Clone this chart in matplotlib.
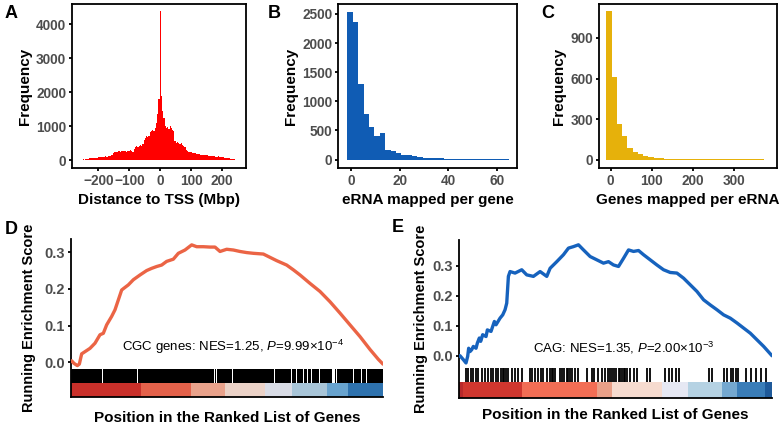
import numpy as np
import matplotlib
matplotlib.use("Agg")
import matplotlib.pyplot as plt

plt.rcParams['font.family'] = ['Liberation Sans', 'DejaVu Sans']
plt.rcParams['mathtext.fontset'] = 'custom'
plt.rcParams['mathtext.rm'] = 'Liberation Sans'
plt.rcParams['mathtext.it'] = 'Liberation Sans:italic'
plt.rcParams['mathtext.bf'] = 'Liberation Sans:bold'

# ---------------- data ----------------
# Panel A: distance of eRNA to TSS (Mbp), 4-Mbp bins
tss_edges = np.arange(-258, 247, 4)
tss_counts = [
    15, 20, 25, 20, 30, 35,
    45, 55, 60, 50, 65, 70, 60, 75,
    80, 90, 85, 95, 100, 90, 110, 105,
    120, 130, 115, 140, 200, 230,
    250, 240, 260, 270, 255, 265, 280, 260, 275, 250, 270,
    280, 300, 260, 250, 330,
    400, 420, 390, 430, 450, 420, 480,
    600, 650, 700, 680, 720,
    820, 850, 900, 870, 950,
    1100, 1350, 1800,
    4380,
    1900, 1450, 1250,
    1000, 950, 980, 920, 1010, 960, 900, 870,
    560, 520, 540, 500, 480, 520, 460,
    420, 380, 300, 260,
    240, 230, 250, 220, 200, 210, 190, 180,
    170, 175, 160, 165, 150, 155, 140, 150, 135, 130, 125, 120,
    115, 110, 105, 100, 110, 95, 90, 100, 80, 75,
    70, 60, 55, 50, 45, 40, 30, 25, 15,
]

# Panel B: eRNA mapped per gene
erna_edges = np.linspace(-1.5, 65.1, 31)
erna_counts = [2530, 2370, 1300, 790, 555, 400, 459, 172, 143, 115,
               86, 80, 57, 40, 30, 25, 22, 20, 15, 12,
               15, 10, 10, 9, 8, 8, 7, 6, 6, 5]

# Panel C: genes mapped per eRNA
gene_edges = np.linspace(-10.7, 373.3, 31)
gene_counts = [1100, 614, 265, 177, 86, 61, 44, 32, 22, 15,
               12, 10, 8, 8, 6, 7, 6, 5, 6, 5,
               5, 5, 5, 5, 5, 5, 5, 4, 4, 4]

N_GENES = 10000

# Panel D: running enrichment score, CGC genes
d_rank = [0, 21, 96, 203, 267, 342, 449, 609, 769, 929, 1036, 1143, 1303, 1410,
          1517, 1624, 1699, 1838, 1998, 2212, 2425, 2585, 2746, 2906, 3066, 3280,
          3440, 3654, 3868, 4028, 4242, 4455, 4615, 4776, 4990, 5203, 5417, 5630,
          5844, 6165, 6378, 6592, 6912, 7126, 7340, 7660, 7981, 8302, 8622, 8942,
          9263, 9583, 9851, 10000]
d_es = [0.004, 0.004, -0.003, -0.009, -0.005, 0.023, 0.029, 0.038, 0.052, 0.075,
        0.079, 0.102, 0.125, 0.143, 0.170, 0.197, 0.202, 0.211, 0.225, 0.238,
        0.250, 0.256, 0.261, 0.265, 0.275, 0.281, 0.297, 0.306, 0.320, 0.315,
        0.315, 0.314, 0.314, 0.302, 0.308, 0.306, 0.302, 0.299, 0.297, 0.295,
        0.286, 0.277, 0.265, 0.252, 0.238, 0.215, 0.193, 0.165, 0.134, 0.102,
        0.070, 0.035, 0.008, -0.005]
# ranks without a CGC hit (white gaps in the dense barcode) and their widths
d_gap_ranks = [128, 1003, 1923, 2138, 2404, 2564, 3974, 4593, 4670, 5170, 5545,
               6346, 6529, 7061, 7234, 7446, 7574, 7715, 7958, 8141, 8301, 8407,
               8516, 8910, 9048, 9317, 9478, 9551]
d_gap_widths = [30, 30, 30, 30, 30, 30, 30, 30, 30, 30, 30,
                30, 30, 30, 30, 30, 30, 30, 30, 30, 30, 110,
                30, 30, 30, 30, 30, 30]
d_bar_bounds = [0, 0.224, 0.385, 0.494, 0.622, 0.707, 0.819, 0.889, 1.0]
d_bar_colors = ['#C9302A', '#E3614A', '#E9A28B', '#EBD2C7', '#D9DCE6',
                '#A8C5D8', '#68A3CE', '#2E72AE']

# Panel E: running enrichment score, CAG genes
e_rank = [0, 32, 139, 224, 277, 309, 352, 405, 458, 544, 586, 650, 693, 757, 864,
          906, 1023, 1130, 1183, 1311, 1397, 1471, 1525, 1578, 1631, 1791, 2004,
          2164, 2377, 2591, 2804, 2911, 3124, 3337, 3497, 3657, 3817, 3977, 4190,
          4403, 4616, 4776, 4936, 5096, 5256, 5416, 5576, 5736, 5896, 6109, 6322,
          6535, 6748, 6962, 7175, 7388, 7601, 7815, 8028, 8241, 8454, 8667, 8881,
          9094, 9307, 9520, 9734, 10000]
e_es = [0.000, 0.000, -0.013, -0.024, -0.002, 0.025, 0.014, 0.020, 0.031, 0.025,
        0.042, 0.059, 0.048, 0.070, 0.064, 0.086, 0.081, 0.114, 0.103, 0.125,
        0.136, 0.153, 0.175, 0.264, 0.280, 0.275, 0.286, 0.269, 0.264, 0.280,
        0.264, 0.291, 0.313, 0.336, 0.358, 0.363, 0.369, 0.352, 0.330, 0.319,
        0.308, 0.313, 0.302, 0.297, 0.324, 0.352, 0.347, 0.350, 0.336, 0.319,
        0.302, 0.286, 0.277, 0.275, 0.258, 0.236, 0.214, 0.186, 0.169, 0.153,
        0.136, 0.125, 0.109, 0.092, 0.075, 0.053, 0.031, 0.000]
e_hits = [214, 297, 384, 457, 534, 617, 726, 831, 937, 1023, 1097, 1174, 1238,
          1343, 1397, 1449, 1503, 1557, 1685, 1791, 1896, 2005, 2271, 2344, 2430,
          2536, 2622, 2696, 2805, 2910, 2965, 3016, 3070, 3230, 3303, 3367, 3444,
          3495, 3550, 3623, 3710, 3796, 4084, 4244, 4327, 4436, 4563, 4669, 4755,
          4829, 4903, 4947, 5021, 5107, 5158, 5213, 5267, 5318, 5373, 5478, 5587,
          5692, 6012, 6118, 6597, 6706, 6812, 6917, 7026, 7985, 8068, 8465, 8571,
          8676, 8753, 8836, 8922, 9156, 9316, 9476, 9635, 9795]
e_bar_bounds = [0, 0.014, 0.2, 0.44, 0.488, 0.648, 0.733, 0.84, 0.888, 0.979, 1.0]
e_bar_colors = ['#B8292B', '#D0372F', '#F26E55', '#E9A088', '#F6DBCF', '#E6E8F3',
                '#B5D2E3', '#74A8D0', '#3A7DB8', '#1F5A9A']

# ---------------- figure ----------------
W, H = 784, 426
fig = plt.figure(figsize=(W / 100, H / 100), dpi=100)

TICK_GREY = '#4D4D4D'


def rect(l, t, r, b):
    return [l / W, 1 - b / H, (r - l) / W, (b - t) / H]


def style_ticks(ax, size):
    ax.tick_params(direction='out', length=2.2, width=1.3, color='black',
                   labelsize=size, labelcolor=TICK_GREY, pad=2)
    for lab in ax.get_xticklabels() + ax.get_yticklabels():
        lab.set_fontweight('bold')


def hist_panel(r, edges, counts, color, xlim, ylim, xticks, yticks, xlabel, ylabel_pad):
    ax = fig.add_axes(r)
    ax.stairs(counts, edges, fill=True, color=color, linewidth=0)
    ax.set_xlim(xlim)
    ax.set_ylim(ylim)
    ax.set_xticks(xticks)
    ax.set_yticks(yticks)
    for s in ax.spines.values():
        s.set_linewidth(1.3)
        s.set_color('black')
    style_ticks(ax, 9.8)
    ax.set_xlabel(xlabel, fontsize=11, fontweight='bold', labelpad=4)
    ax.set_ylabel('Frequency', fontsize=11, fontweight='bold', labelpad=ylabel_pad)
    return ax


hist_panel(rect(72, 4, 246, 168), tss_edges, tss_counts, '#FF0000',
           (-285, 277), (-230, 4600), [-200, -100, 0, 100, 200],
           [0, 1000, 2000, 3000, 4000], 'Distance to TSS (Mbp)', 3)
hist_panel(rect(338, 4, 517, 168), erna_edges, erna_counts, '#105CB4',
           (-5.4, 68.4), (-145, 2671), [0, 20, 40, 60],
           [0, 500, 1000, 1500, 2000, 2500], 'eRNA mapped per gene', 3)
hist_panel(rect(599, 4, 777, 168), gene_edges, gene_counts, '#E6B10B',
           (-28.6, 406), (-59, 1150), [0, 100, 200, 300],
           [0, 300, 600, 900], 'Genes mapped per eRNA', 3)


def gsea_panel(r, rank, es, color, ylim, bar_band, bar_bounds,
               bar_colors, ylabel_pad, xlabel_pad):
    ax = fig.add_axes(r)
    ax.plot(rank, es, color=color, lw=2.4, solid_capstyle='round',
            solid_joinstyle='round', zorder=3)
    bb = [b * N_GENES for b in bar_bounds]
    segs = [(bb[i], bb[i + 1] - bb[i]) for i in range(len(bb) - 1)]
    ax.broken_barh(segs, bar_band, facecolors=bar_colors, linewidth=0)
    ax.set_xlim(0, N_GENES)
    ax.set_ylim(ylim)
    ax.set_yticks([0, 0.1, 0.2, 0.3])
    ax.set_yticklabels(['0.0', '0.1', '0.2', '0.3'])
    ax.set_xticks([])
    for s in ('top', 'right'):
        ax.spines[s].set_visible(False)
    for s in ('left', 'bottom'):
        ax.spines[s].set_linewidth(1.3)
        ax.spines[s].set_color('black')
    style_ticks(ax, 10.5)
    ax.set_ylabel('Running Enrichment Score', fontsize=10.5, fontweight='bold',
                  labelpad=ylabel_pad)
    ax.set_xlabel('Position in the Ranked List of Genes', fontsize=11,
                  fontweight='bold', labelpad=xlabel_pad)
    return ax


# Panel D
axD = gsea_panel(rect(71, 239, 383, 397), d_rank, d_es, '#EB6445',
                 (-0.0946, 0.336), (-0.0946, 0.0373), d_bar_bounds,
                 d_bar_colors, 6, 10)
starts = [0] + [g + w / 2 for g, w in zip(d_gap_ranks, d_gap_widths)]
ends = [g - w / 2 for g, w in zip(d_gap_ranks, d_gap_widths)] + [N_GENES]
axD.broken_barh([(s, e - s) for s, e in zip(starts, ends)], (-0.0573, 0.0382),
                facecolors='black', linewidth=0)
axD.text(5192, 0.0425, r'CGC genes: NES=1.25, $\mathit{P}$=9.99×$10^{-4}$',
         fontsize=9.5, ha='center', va='center', color='black')

# Panel E
axE = gsea_panel(rect(459, 240, 772, 398), e_rank, e_es, '#1662BD',
                 (-0.1405, 0.385), (-0.1405, 0.0518), e_bar_bounds,
                 e_bar_colors, 3, 7)
axE.vlines(e_hits, -0.0887, -0.0409, color='black', lw=1.3)
axE.text(5245, 0.0256, r'CAG: NES=1.35, $\mathit{P}$=2.00×$10^{-3}$',
         fontsize=9.5, ha='center', va='center', color='black')

# panel letters
for letter, (x, y) in zip('ABCDE', [(11, 14), (274, 14), (548, 14), (11.5, 229), (398, 228)]):
    fig.text(x / W, 1 - y / H, letter, fontsize=13, fontweight='bold',
             ha='center', va='center')

fig.savefig('out.png', dpi=100)
